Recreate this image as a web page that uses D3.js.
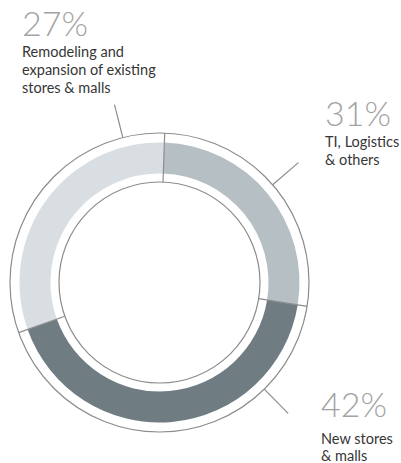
<!DOCTYPE html>
<html>
<head>
<meta charset="utf-8">
<script src="https://cdn.jsdelivr.net/npm/d3@7"></script>
<style>
  body { margin: 0; background: #fff; }
  svg { display: block; }
</style>
</head>
<body>
<div id="chart"></div>
<script>
// arc shares as drawn in the source (clockwise from top)
var segments = ["TI, Logistics & others", "New stores & malls", "Remodeling and expansion of existing stores & malls"];
var shares = [27, 42, 31];
var colors = ["#b6bfc4", "#6f7d83", "#d8dee2"];

// labels as printed in the source
var pctLabels = ["31%", "42%", "27%"];
var descLines = [
    ["TI, Logistics", "& others"],
    ["New stores", "& malls"],
    ["Remodeling and", "expansion of existing", "stores & malls"]
];

var width = 401, height = 463;
var cx = 159.5, cy = 282.5;
var rOuter = 149.5, rBandOut = 140, rBandIn = 109, rInner = 100.5;

// label placement: leader angle (deg), text x, percent baseline, gap to first line, line height
var layout = [
    {angle: 49.2, x: 325, y: 125.5, gap: 21, lh: 18.3},
    {angle: 135.5, x: 321, y: 416.5, gap: 27, lh: 17.5},
    {angle: 345.8, x: 22, y: 36, gap: 20.5, lh: 18}
];

var svg = d3.select("#chart")
    .append("svg")
    .attr("width", width)
    .attr("height", height);

var g = svg.append("g")
    .attr("transform", "translate(" + cx + "," + cy + ")");

var startA = 2 * Math.PI / 180;
var pie = d3.pie()
    .sort(null)
    .startAngle(startA)
    .endAngle(startA + 2 * Math.PI)
    .value(function (d) { return d; });

var arcs = pie(shares);

var arc = d3.arc()
    .innerRadius(rBandIn)
    .outerRadius(rBandOut);

g.selectAll("path.seg")
    .data(arcs)
    .enter().append("path")
    .attr("class", "seg")
    .attr("d", arc)
    .style("fill", function (d, i) { return colors[i]; });

// outline circles
g.append("circle").attr("r", rOuter)
    .style("fill", "none").style("stroke", "#8c8c8c").style("stroke-width", 1.2);
g.append("circle").attr("r", rInner)
    .style("fill", "none").style("stroke", "#8c8c8c").style("stroke-width", 1.2);

// radial dividers at segment starts
g.selectAll("line.div")
    .data(arcs)
    .enter().append("line")
    .attr("class", "div")
    .attr("x1", function (d) { return rInner * Math.sin(d.startAngle); })
    .attr("y1", function (d) { return -rInner * Math.cos(d.startAngle); })
    .attr("x2", function (d) { return rOuter * Math.sin(d.startAngle); })
    .attr("y2", function (d) { return -rOuter * Math.cos(d.startAngle); })
    .style("stroke", "#8c8c8c")
    .style("stroke-width", 1.2);

// leader lines
var leadLen = 34;
g.selectAll("line.lead")
    .data(layout)
    .enter().append("line")
    .attr("class", "lead")
    .attr("x1", function (d) { return rOuter * Math.sin(d.angle * Math.PI / 180); })
    .attr("y1", function (d) { return -rOuter * Math.cos(d.angle * Math.PI / 180); })
    .attr("x2", function (d) { return (rOuter + leadLen) * Math.sin(d.angle * Math.PI / 180); })
    .attr("y2", function (d) { return -(rOuter + leadLen) * Math.cos(d.angle * Math.PI / 180); })
    .style("stroke", "#8c8c8c")
    .style("stroke-width", 1.2);

// labels
var lbl = svg.selectAll("g.lbl")
    .data(layout)
    .enter().append("g")
    .attr("class", "lbl");

lbl.append("text")
    .attr("x", function (d) { return d.x; })
    .attr("y", function (d) { return d.y; })
    .style("font-family", "Lato, 'Open Sans', sans-serif")
    .style("font-weight", 300)
    .style("font-size", "34px")
    .style("fill", "#a3a3a3")
    .text(function (d, i) { return pctLabels[i]; });

lbl.each(function (d, i) {
    var t = d3.select(this).append("text")
        .style("font-family", "Lato, 'Open Sans', sans-serif")
        .style("font-size", "14.5px")
        .style("fill", "#363636");
    descLines[i].forEach(function (s, j) {
        t.append("tspan")
            .attr("x", d.x)
            .attr("y", d.y + d.gap + j * d.lh)
            .text(s);
    });
});
</script>
</body>
</html>
